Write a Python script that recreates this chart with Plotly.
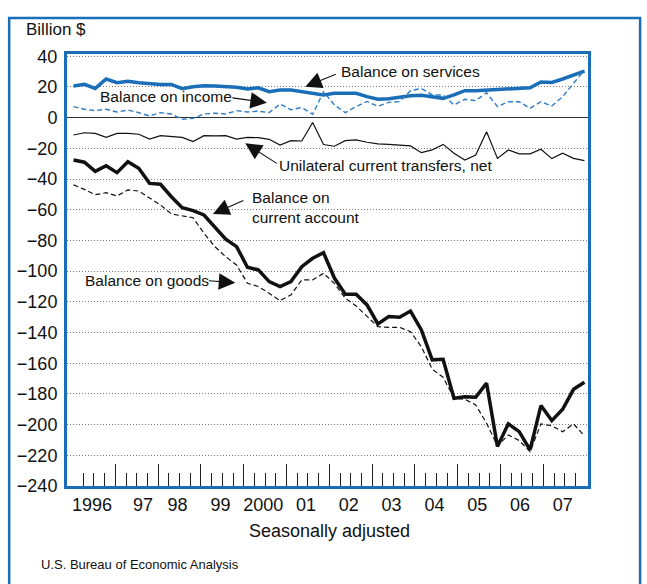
import numpy as np
import plotly.graph_objects as go

# quarterly, seasonally adjusted, billion $ (1996Q1 .. 2007Q4)
quarters = [f"{y}Q{q}" for y in range(1996, 2008) for q in range(1, 5)]

current_account = [-27.6, -29.0, -35.0, -31.3, -35.8, -28.7, -33.0, -42.8, -43.4, -51.5, -58.6, -60.6,
                   -63.4, -71.0, -79.2, -84.0, -97.5, -99.2, -106.8, -110.0, -106.8, -97.1, -91.6, -88.0,
                   -104.5, -115.0, -115.0, -122.0, -134.4, -129.6, -130.0, -126.0, -138.3, -157.8, -157.4, -182.8,
                   -181.8, -182.2, -173.0, -214.3, -199.5, -204.6, -216.5, -187.6, -197.4, -190.0, -177.0, -172.4]
goods = [-43.8, -46.7, -50.2, -48.9, -51.0, -47.1, -47.8, -52.5, -56.9, -62.7, -64.0, -65.2,
         -75.3, -84.0, -90.6, -96.0, -107.9, -110.0, -114.4, -119.2, -115.5, -105.7, -105.7, -101.4,
         -108.0, -117.7, -122.7, -129.6, -136.2, -136.6, -136.6, -139.4, -149.2, -163.9, -169.1, -182.8,
         -183.5, -187.2, -199.1, -213.9, -206.7, -210.4, -217.6, -199.5, -200.8, -204.6, -199.5, -207.4]
services = [20.6, 21.7, 19.1, 25.2, 22.8, 23.7, 22.8, 22.2, 21.7, 21.7, 18.9, 20.2,
            20.8, 20.6, 20.2, 19.8, 18.7, 19.5, 16.9, 18.0, 18.0, 16.9, 15.9, 14.8,
            15.9, 15.9, 15.9, 13.7, 12.0, 12.4, 13.3, 14.3, 14.6, 13.7, 12.6, 14.8,
            17.6, 17.6, 18.0, 18.5, 18.5, 18.9, 19.5, 23.3, 23.0, 25.2, 27.8, 30.4]
income = [7.2, 5.5, 4.6, 5.5, 3.7, 5.0, 3.3, 1.1, 3.3, 2.4, -1.0, -0.4,
          2.4, 2.9, 2.4, 4.6, 3.7, 4.2, 3.3, 8.9, 5.2, 6.6, 2.2, 16.9,
          8.3, 3.3, 7.2, 10.6, 7.4, 10.0, 10.5, 17.6, 19.1, 14.8, 14.8, 8.3,
          12.0, 11.1, 16.3, 7.2, 10.4, 10.4, 6.1, 10.4, 7.6, 13.7, 22.4, 31.0]
transfers = [-11.3, -9.8, -10.2, -12.8, -10.2, -10.2, -10.8, -13.9, -11.7, -12.4, -12.8, -15.6,
             -11.7, -11.9, -11.7, -13.9, -12.8, -13.0, -14.1, -17.8, -15.0, -15.2, -3.1, -17.5,
             -18.6, -15.0, -14.5, -16.0, -17.1, -17.4, -17.8, -18.4, -22.8, -21.0, -17.4, -23.2,
             -27.6, -24.3, -9.1, -26.5, -21.0, -23.6, -23.6, -20.6, -26.7, -23.2, -26.5, -28.0]

year_labels = ["1996", "97", "98", "99", "2000", "01", "02", "03", "04", "05", "06", "07"]

BLUE = "#1a6eb8"
x = np.arange(len(quarters))

fig = go.Figure()

series = [
    ("Balance on services", services, dict(color=BLUE, width=3.5)),
    ("Balance on income", income, dict(color="#2b7cc4", width=1.4, dash="5px,3px")),
    ("Unilateral current transfers, net", transfers, dict(color="#111", width=1.2)),
    ("Balance on goods", goods, dict(color="#111", width=1.2, dash="5px,3px")),
    ("Balance on current account", current_account, dict(color="#111", width=3.5)),
]
for name, vals, line in series:
    fig.add_trace(go.Scatter(x=x, y=vals, mode="lines", name=name, line=line,
                             customdata=quarters, showlegend=False,
                             hovertemplate="%{customdata}: %{y:.1f}<extra>" + name + "</extra>"))

# empty traces so the extra tick axes get drawn
fig.add_trace(go.Scatter(x=[], y=[], xaxis="x2", showlegend=False, hoverinfo="skip"))
fig.add_trace(go.Scatter(x=[], y=[], xaxis="x3", showlegend=False, hoverinfo="skip"))

xrange = [-0.6, 47.33]
small_ticks = [0.892 + 0.9844 * k for k in range(47)]
year_ticks = [t for k, t in enumerate(small_ticks) if k % 4 == 3]
label_pos = [1.7 + 3.9375 * k for k in range(len(year_labels))]
label_pos[1] += 0.75

fig.update_layout(
    width=647, height=584,
    margin=dict(l=67, r=59, t=54, b=98),
    paper_bgcolor="white", plot_bgcolor="white",
    font=dict(family="Arial, Liberation Sans, sans-serif", color="#111", size=18),
    xaxis=dict(range=xrange, tickmode="array", tickvals=small_ticks, ticks="inside", ticklen=13,
               tickwidth=1, tickcolor="#222", showticklabels=False, showgrid=False, zeroline=False,
               showline=True, mirror=True, linewidth=3, linecolor=BLUE),
    xaxis2=dict(range=xrange, overlaying="x", anchor="y", side="bottom", tickmode="array",
                tickvals=year_ticks, ticks="inside", ticklen=22, tickwidth=1, tickcolor="#222",
                showticklabels=False, showgrid=False, zeroline=False, showline=False),
    xaxis3=dict(range=xrange, overlaying="x", anchor="y", side="bottom", tickmode="array",
                tickvals=label_pos, ticktext=year_labels, ticks="", showgrid=False,
                zeroline=False, showline=False, ticklabelstandoff=6, tickfont=dict(size=18)),
    yaxis=dict(range=[-240, 41.5], tickmode="array", tickvals=list(range(-240, 41, 20)),
               showgrid=True, gridcolor="#7a7a7a", griddash="1px,2px", gridwidth=1,
               zeroline=True, zerolinecolor="#333", zerolinewidth=1.2,
               showline=True, mirror=True, linewidth=3, linecolor=BLUE, ticks="",
               ticklabelstandoff=3, tickfont=dict(size=18)),
    hovermode="closest",
)

# outer frame
fig.add_shape(type="rect", xref="paper", yref="paper", x0=-0.111, x1=1.1, y0=-0.3, y1=1.0835,
              line=dict(color=BLUE, width=2.5), layer="below")

annot_font = dict(family="Arial, Liberation Sans, sans-serif", size=15.5, color="#111")
labels = [
    ("Balance on services", 24.42, 29.8),
    ("Balance on income", 2.27, 13.7),
    ("Unilateral current transfers, net", 18.75, -31.4),
    ("Balance on<br>current account", 16.25, -58.2),
    ("Balance on goods", 0.83, -106.2),
]
for txt, lx, ly in labels:
    fig.add_annotation(x=lx, y=ly, text=txt, showarrow=False, xanchor="left", yanchor="middle",
                       align="left", font=annot_font)

arrows = [(21.32, 20.2, 32, -13), (17.79, 9.8, -36, -5), (15.8, -16.7, 33, 21),
          (12.82, -62.7, 32, -14), (14.88, -107.5, -28, -2)]
for ax_x, ax_y, dx, dy in arrows:
    fig.add_annotation(x=ax_x, y=ax_y, text="", showarrow=True, arrowhead=2, arrowsize=3,
                       arrowwidth=1.1, arrowcolor="#111", ax=dx, ay=dy)

fig.add_annotation(xref="paper", yref="paper", x=-0.083, y=1.0556, text="Billion $",
                   showarrow=False, xanchor="left", yanchor="middle", font=dict(size=17))
fig.add_annotation(xref="paper", yref="paper", x=0.504, y=-0.105, text="Seasonally adjusted",
                   showarrow=False, xanchor="center", yanchor="middle", font=dict(size=18))
fig.add_annotation(xref="paper", yref="paper", x=-0.054, y=-0.181,
                   text="U.S. Bureau of Economic Analysis", showarrow=False,
                   xanchor="left", yanchor="middle", font=dict(size=13))

fig.write_html("out.html", config={"displayModeBar": False},
               post_script="document.body.style.margin='0';")
